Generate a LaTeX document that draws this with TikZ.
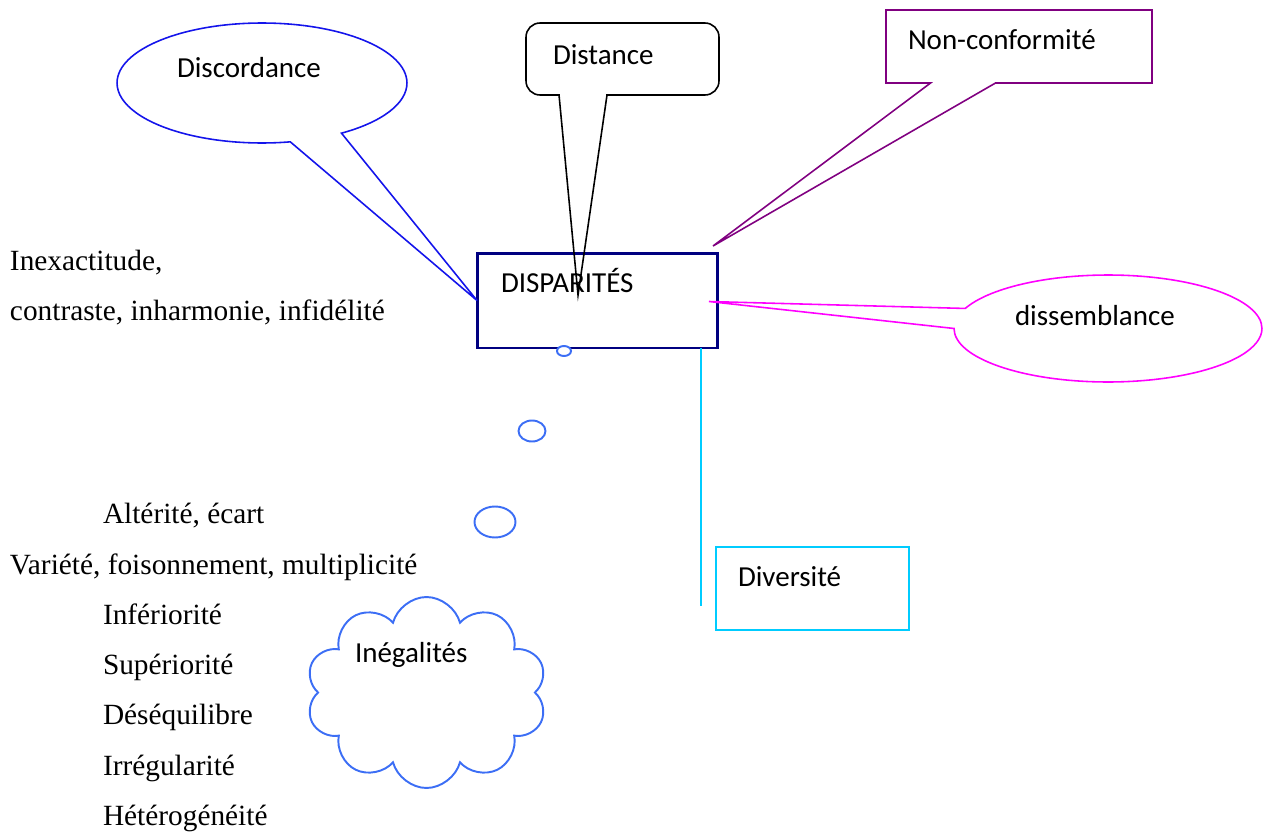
\documentclass[tikz,border=0pt]{standalone}
\usepackage{fontspec}
\setmainfont{Liberation Serif}
\newfontfamily\calfont{Carlito}
\usetikzlibrary{positioning}
\usetikzlibrary{calc,shapes.callouts,shapes.symbols,shapes.geometric}
\definecolor{discc}{RGB}{20,20,235}
\definecolor{distc}{RGB}{0,0,0}
\definecolor{nonc}{RGB}{128,0,128}
\definecolor{dispc}{RGB}{0,0,128}
\definecolor{dissc}{RGB}{255,0,255}
\definecolor{divc}{RGB}{0,204,255}
\definecolor{inegc}{RGB}{60,110,245}
\newcommand{\lw}{0.9pt}

\begin{document}
\begin{tikzpicture}[x=0.02cm, y=-0.02cm, line width=\lw, inner sep=0pt, outer sep=0pt]
		\tikzstyle{word}=[font=\fontsize{16.5}{19}\selectfont\calfont, anchor=base west]
		\tikzstyle{list}=[font=\fontsize{16.7}{19}\selectfont, anchor=base west]
		\tikzstyle{bubble}=[ellipse, draw=inegc, fill=white, line width=1.1pt]
		\tikzstyle{divline}=[draw=divc]

		\useasboundingbox (0,0) rectangle (1269,832);

		% Central box
		\node[draw=dispc, line width=1.7pt, minimum width=4.82cm, minimum height=1.9cm] (disp) at (597.5,300.5) {};

		% Callouts
		\node[ellipse callout, draw=discc, minimum width=5.8cm, minimum height=2.4cm,
			callout absolute pointer={(disp.west)}, callout pointer arc=22] (disc) at (262,83) {};
		\node[ellipse callout, draw=dissc, minimum width=6.16cm, minimum height=2.14cm,
			callout absolute pointer={($(disp.east)+(-9,1)$)}, callout pointer arc=22] (diss) at (1108,328.5) {};
		\node[rectangle callout, draw=nonc, minimum width=5.32cm, minimum height=1.46cm,
			callout absolute pointer={($(disp.north east)+(-5,-7)$)}, callout pointer width=1.3cm] (nonconf) at (1019,46.5) {};

		\node[draw=distc, rounded corners=0.28cm, minimum width=3.86cm, minimum height=1.44cm] (dist) at (622.5,59) {};
		\coordinate (distA) at ($(dist.south west)+(33,0)$);
		\coordinate (distB) at ($(dist.south west)+(81,0)$);
		\coordinate (distTip) at ($(disp.north west)+(101,42)$);
		\fill[white] ($(distA)+(0.8,-2)$) rectangle ($(distB)+(-0.8,2)$);
		\draw[distc] (distA) -- (distTip) -- (distB);

		% Diversite
		\node[draw=divc, minimum width=3.86cm, minimum height=1.66cm] (div) at (812.5,588.5) {};
		\coordinate (divEnd) at (701,606);
		\path (divEnd |- disp.south) edge [divline] (divEnd);

		% Thought bubbles
		\node[bubble, minimum width=0.28cm, minimum height=0.2cm] (b1) at (564,351) {};
		\node[bubble, minimum width=0.54cm, minimum height=0.42cm] (b2) at (532,431) {};
		\node[bubble, minimum width=0.82cm, minimum height=0.62cm] (b3) at (495,522) {};
		\node[cloud, cloud puffs=10, aspect=1.26, draw=inegc, line width=1.1pt,
			minimum width=4.82cm, minimum height=3.82cm] (ineg) at (426.5,692.5) {};

		% Texts
		\node[word] (discT) at (177,77) {Discordance};
		\node[word] (distT) at (553,64) {Distance};
		\node[word] (nonT) at (908,49) {Non-conformité};
		\node[word] (dispT) at (501,292) {DISPARITÉS};
		\node[word] (dissT) at (1015,325) {dissemblance};
		\node[word] (divT) at (738,586) {Diversité};
		\node[word] (inegT) at (355,662) {Inégalités};

		\node[list] (inexT) at (10,270) {Inexactitude,};
		\node[list] (contT) at (10,320) {contraste, inharmonie, infidélité};
		\node[list] (altT) at (103,523) {Altérité, écart};
		\node[list] (varT) at (10,574) {Variété, foisonnement, multiplicité};
		\node[list] (infT) at (103,624) {Infériorité};
		\node[list] (supT) at (103,674) {Supériorité};
		\node[list] (deseqT) at (103,724) {Déséquilibre};
		\node[list] (irregT) at (103,775) {Irrégularité};
		\node[list] (heteroT) at (103,825) {Hétérogénéité};
\end{tikzpicture}
\end{document}
